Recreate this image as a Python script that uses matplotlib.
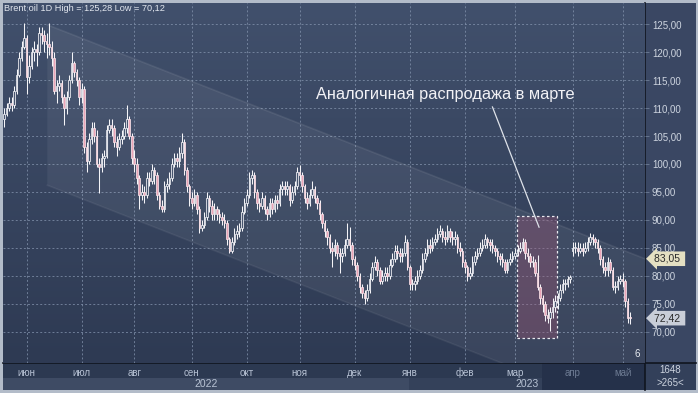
import numpy as np
import pandas as pd
import matplotlib
matplotlib.use('Agg')
import matplotlib.pyplot as plt
from matplotlib.patches import Rectangle, Polygon
import matplotlib.transforms as mtransforms
from matplotlib.colors import LinearSegmentedColormap

plt.rcParams['font.family'] = ['Liberation Sans', 'DejaVu Sans']

# ---------------- data ----------------
dates = pd.bdate_range('2022-05-19', '2023-05-04')
first_open = 108.0
gap_opens = {'2023-04-03': 84.5}

close = [
    109, 110, 111, 110.5, 113, 116, 119, 121, 122.5, 115.5,
    117.5, 120, 120.5, 120, 123.5, 123, 122, 121.5, 121, 119,
    113, 114, 114.5, 112, 110, 112, 115, 118, 116.5, 115,
    112, 113.5, 103, 100.5, 104.5, 106.5, 105, 100, 99.5, 101,
    101.5, 106, 107, 106.5, 104, 103, 104.5, 105, 106.5, 108,
    105, 101, 100, 97.5, 94.5, 95, 94.5, 97.5, 97, 99,
    98, 94.5, 92.5, 92, 96, 96.5, 97.5, 100, 101, 100.5,
    102, 104, 99, 96, 94, 93, 94.5, 92, 88.5, 89,
    90.5, 94, 92.5, 91, 92, 91, 90.5, 90, 89.5, 86.5,
    84.5, 86, 87.5, 88, 88.5, 91.5, 93, 94.5, 97.5, 98,
    95, 93, 92.5, 94, 92, 91, 93, 92, 93.5, 93,
    95.5, 96, 95.5, 96, 93.5, 95, 96, 98.5, 98, 96,
    94, 93, 94.5, 95.5, 94, 93, 91, 89.5, 88, 87,
    85, 84.5, 85.5, 84, 83.5, 84, 85.5, 86.5, 85.5, 83,
    82, 80, 78, 77, 76, 77.5, 79.5, 81.5, 82.5, 81,
    79, 80, 80.5, 80, 82, 83, 84.5, 84, 83.5, 84,
    86, 81.5, 78.5, 78.5, 79, 80, 81, 83, 84, 85.5,
    85, 86, 86.5, 87.5, 88, 87, 86.5, 88, 87, 86.5,
    87, 85, 84.5, 82.5, 81.5, 80, 80.5, 82.5, 83.5, 84,
    85, 85.5, 86.5, 86, 85.5, 85, 84.5, 83.5, 83, 82.5,
    81, 82.5, 83, 83.5, 84, 84.5, 85, 86, 84, 83.5,
    82.5, 82.5, 80.5, 78, 76, 75, 73, 72.5, 73.5, 74.5,
    75.5, 76, 77.5, 78.5, 78.5, 79.5, 79.8, 85, 85, 84.5,
    85, 84.5, 85, 86, 87, 86.5, 86, 85, 83, 81.5,
    81, 82.5, 81, 78, 78, 79, 79.5, 79, 75.5, 72.5,
    72.42]

high = [
    110, 111, 112, 112, 114, 117, 120, 122, 125.2, 123,
    119.5, 121, 122, 121.5, 124.5, 124.5, 124, 123.5, 125.28, 122,
    120, 115, 116, 115, 112.5, 113, 116, 120, 118.5, 117,
    115.5, 114.5, 114, 104, 105.5, 107.5, 107.5, 106, 101, 102,
    102.5, 107, 108, 108, 107, 105, 105.5, 106, 107.5, 110.5,
    108.5, 105.5, 102.5, 101, 98, 96.5, 96, 98.5, 98.5, 100,
    99.5, 98.5, 95, 93.5, 97, 97.5, 98.5, 101, 102, 102,
    103, 105.5, 104.5, 99.5, 96.5, 95, 95.5, 95, 92.5, 90,
    91.5, 95, 94.5, 93.5, 93, 92.5, 92, 91.5, 91, 90,
    87, 87, 88.5, 89, 89.5, 92.5, 94, 95.5, 98.5, 99,
    98.5, 95.5, 94, 95, 94.5, 92.5, 94, 94, 94.5, 94.5,
    96.5, 97, 97, 97, 96.5, 96, 97, 99.5, 99.8, 98.5,
    96.5, 95, 95.5, 97, 96, 94.5, 93.5, 91.5, 90, 88.5,
    87.5, 86, 86.5, 86, 85, 85, 86.5, 89.5, 88.7, 86,
    83.5, 82.5, 80.5, 78.5, 77.5, 78.5, 80.5, 82.5, 83.5, 83,
    81.5, 81, 81.5, 81.5, 83, 84, 85.5, 85.5, 85, 85,
    87.3, 86.5, 82, 79.5, 80, 81, 82, 84, 85, 86.5,
    86.5, 87, 87.5, 88.5, 89, 88.5, 88, 89, 88.5, 88,
    88, 87.5, 86, 85, 83, 82, 81.5, 83.5, 84.5, 85,
    86, 86.5, 87.5, 87, 86.5, 86.5, 85.5, 85, 84, 84,
    83, 83, 84, 84.5, 85, 85.5, 86, 86.8, 86.5, 85,
    84, 83.5, 83, 83.7, 78.5, 76.5, 75.5, 74, 74.5, 76,
    76.5, 77, 78.5, 79.5, 79.5, 80, 80.2, 86, 86, 86,
    85.8, 85.8, 86, 87, 87.6, 87.5, 87, 86.5, 85.5, 83.5,
    82.5, 83.3, 83, 81.5, 79, 80, 80.2, 80.5, 79.5, 76,
    73.5]

low = [
    106.6, 108.5, 109.5, 109.5, 110, 112.5, 115.5, 118.5, 120.5, 112.5,
    114.5, 117, 118.5, 117.5, 119.5, 121.5, 120, 119, 119.5, 117.5,
    112.5, 111, 113, 111, 107, 109, 111.5, 114.5, 115.5, 114,
    110.5, 111, 102, 98.5, 100, 103.5, 104, 99.5, 94.8, 98.5,
    99.5, 101, 105.5, 105, 103, 101.5, 102.5, 103.5, 104.5, 105.5,
    104.5, 100, 98.5, 96.5, 92, 93.5, 93, 94, 96, 96.5,
    96.5, 93.5, 92, 91.5, 91.5, 95, 95.5, 97, 99.5, 99.5,
    99.5, 101, 98, 95, 92.5, 92, 92.5, 91, 87.7, 88,
    88.5, 90, 91.5, 90, 90, 90, 89.5, 89, 88.5, 85.5,
    84, 84, 85.5, 86.5, 87, 88, 91, 92.5, 94, 96.5,
    94, 92, 91.5, 92, 91, 90, 90.5, 91, 91.5, 92,
    92.5, 94.5, 94.5, 94.5, 92.5, 93, 94.5, 95.5, 97, 95,
    93, 92, 92.5, 94, 93, 92, 90, 88.5, 87, 85.5,
    84, 81.5, 83.5, 83, 80.5, 82.5, 83.5, 85, 84.5, 82,
    81, 79, 77, 76, 75, 75.5, 77, 79, 81, 80,
    78.5, 78.5, 79, 79, 79.5, 81.5, 82.5, 83, 82.5, 82.5,
    83.5, 81, 77.5, 77.5, 77.5, 78.5, 79.5, 80.5, 82.5, 83.5,
    84, 84.5, 85.5, 86, 87, 86, 85.5, 86, 86, 85.5,
    85.5, 84, 83.5, 81.5, 80.5, 79, 79.5, 80, 82, 83,
    83.5, 84.5, 85, 85, 84.5, 84, 83.5, 82.5, 82, 81.5,
    80.5, 80.5, 82, 82.5, 83, 83.5, 84, 84.5, 83, 82.5,
    81.5, 81.5, 80, 77.5, 75, 73.5, 72, 71.5, 70.12, 72.5,
    73.5, 74, 75.5, 77, 77.5, 78, 78.8, 83.5, 84, 83.5,
    84, 83.5, 84, 84.5, 85.5, 85.5, 85, 84, 82, 80.5,
    80, 80, 80.5, 77.4, 77, 77.5, 78.5, 78, 74.5, 71.5,
    71.4]

month_labels = ['июн', 'июл', 'авг', 'сен', 'окт', 'ноя', 'дек',
                'янв', 'фев', 'мар', 'апр', 'май']
year_labels = ['2022', '2023']
price_ticks = [70, 75, 80, 85, 90, 95, 100, 105, 110, 115, 120, 125]

title = 'Brent oil 1D High = 125,28 Low = 70,12'
note_text = 'Аналогичная распродажа в марте'

# trend channel: (bar index, upper price, lower price) at start / end
chan_start = (17.3, 124.9, 96.2)
chan_end = (255.9, 83.05, 54.35)
last_price = 72.42
channel_price = 83.05

# highlighted March sell-off
hl_x = (204.8, 220.8)
hl_y = (68.9, 90.7)

n = min(len(dates), len(close), len(high), len(low))
dates = dates[:n]
opens = [first_open] + list(close[:n - 1])
for d, v in gap_opens.items():
    k = dates.get_loc(pd.Timestamp(d))
    opens[k] = v

# ---------------- figure ----------------
W, H = 698, 393
fig = plt.figure(figsize=(W / 100, H / 100), dpi=100, facecolor='#b3bcc9')

deco = fig.add_axes([0, 0, 1, 1], zorder=-5)
deco.set_xlim(0, W)
deco.set_ylim(H, 0)
deco.axis('off')

L, R, T, B = 3, 645, 3, 363
ax_pos = [L / W, (H - B) / H, (R - L) / W, (B - T) / H]

bg = fig.add_axes(ax_pos, zorder=-1)
grad = np.linspace(0, 1, 256)[:, None]
cmap_bg = LinearSegmentedColormap.from_list('bg', ['#41506c', '#2e3a53'])
bg.imshow(grad, aspect='auto', cmap=cmap_bg, extent=[0, 1, 0, 1])
bg.axis('off')

ax = fig.add_axes(ax_pos, zorder=1)
ax.patch.set_visible(False)

xlo, xhi = -0.4, 255.9
ylo, yhi = 64.4, 128.8
ax.set_xlim(xlo, xhi)
ax.set_ylim(ylo, yhi)

# channel
poly = Polygon([(chan_start[0], chan_start[1]), (chan_end[0], chan_end[1]),
                (chan_end[0], chan_end[2]), (chan_start[0], chan_start[2])],
               closed=True, facecolor='white', alpha=0.06, edgecolor='none', zorder=1)
ax.add_patch(poly)
ax.plot([chan_start[0], chan_end[0]], [chan_start[1], chan_end[1]], color='white',
        alpha=0.08, lw=1.2, zorder=1)
ax.plot([chan_start[0], chan_end[0]], [chan_start[2], chan_end[2]], color='white',
        alpha=0.06, lw=1.2, zorder=1)

# grid / ticks
month_idx = []
for k in range(1, n):
    if dates[k].month != dates[k - 1].month:
        month_idx.append(k)
ax.set_xticks(month_idx)
ax.set_xticklabels(month_labels[:len(month_idx)])
ax.set_yticks(price_ticks)
ax.set_yticklabels([f'{v:.2f}'.replace('.', ',') for v in price_ticks])
ax.grid(True, color='#8494ae', lw=0.7, ls=(0, (2, 2.2)), alpha=0.75, zorder=0)
ax.set_axisbelow(True)
for s in ax.spines.values():
    s.set_visible(False)
ax.yaxis.tick_right()
ax.tick_params(axis='y', length=3, width=0.6, color='#6e7d96', pad=2,
               labelsize=7, labelcolor='#cdd4df')
ax.tick_params(axis='x', length=0, pad=3.5, labelsize=7, labelcolor='#b7c2d4')
for lab in ax.get_xticklabels()[-2:]:
    lab.set_color('#6d7b93')

# highlight rectangle
rect = Rectangle((hl_x[0], hl_y[0]), hl_x[1] - hl_x[0], hl_y[1] - hl_y[0],
                 facecolor=(0.60, 0.33, 0.45, 0.38), edgecolor='#eaeaf0',
                 lw=0.9, ls=(0, (2, 2)), zorder=2)
ax.add_patch(rect)

# candles
x = np.arange(n)
o = np.array(opens[:n], float)
c = np.array(close[:n], float)
h = np.array(high[:n], float)
lw_ = np.array(low[:n], float)
up = c >= o
ax.vlines(x, lw_, h, color='#f4f4f8', lw=0.75, zorder=3)
bottoms = np.minimum(o, c)
heights = np.maximum(np.abs(c - o), 0.18)
ax.bar(x[up], heights[up], bottom=bottoms[up], width=0.62, color='#48556f',
       edgecolor='#f6f6fa', lw=0.55, zorder=4)
ax.bar(x[~up], heights[~up], bottom=bottoms[~up], width=0.62, color='#eba5b8',
       edgecolor='#fae4ea', lw=0.55, zorder=4)

# annotation
ax.text(124.6, 112.4, note_text, fontsize=11.8, color='#f2f2f6', ha='left',
        va='center', zorder=6)
ax.plot([195.0, 213.6], [110.2, 88.7], color='#dfe3ea', lw=0.9, zorder=6)

# title and small counter
ax.text(0.002, 0.985, title, transform=ax.transAxes, fontsize=6.6,
        color='#e2e7ef', ha='left', va='center', zorder=6)
ax.text(0.9875, 0.012, '6', transform=ax.transAxes, fontsize=7,
        color='#e8ecf2', ha='center', va='bottom', zorder=6)

# price tags
bt = mtransforms.blended_transform_factory(ax.transAxes, ax.transData)
for val, fc in [(channel_price, '#e4e0c2'), (last_price, '#c9ced8')]:
    ax.text(1.014, val, f'{val:.2f}'.replace('.', ',') + ' ', transform=bt,
            fontsize=7.5, color='#2a2a2a', ha='left', va='center', clip_on=False,
            zorder=7, bbox=dict(boxstyle='larrow,pad=0.22', fc=fc, ec='none'))

# year labels
jan_idx = month_idx[month_labels.index('янв')]
bx = mtransforms.blended_transform_factory(ax.transData, ax.transAxes)
ax.text((xlo + jan_idx - 0.5) / 2, -0.058, year_labels[0], transform=bx,
        fontsize=7.5, color='#b9c4d5', ha='center', va='center', clip_on=False)
ax.text((jan_idx - 0.5 + xhi) / 2, -0.058, year_labels[1], transform=bx,
        fontsize=7.5, color='#b9c4d5', ha='center', va='center', clip_on=False)

jan_px = ax.transData.transform((jan_idx - 0.5, 0))[0]

# decorative panels (pixel coords)
deco.add_patch(Rectangle((R, T), W - 2 - R, B - T, fc='#3a4763', ec='none'))
deco.add_patch(Rectangle((L, B), R - L, 15, fc='#2c3951', ec='none'))
deco.add_patch(Rectangle((542, B), R - 542, 15, fc='#25314a', ec='none'))
deco.add_patch(Rectangle((L, B + 15), jan_px - L, 12, fc='#3e4b64', ec='none'))
deco.add_patch(Rectangle((jan_px, B + 15), 542 - jan_px, 12, fc='#34415a', ec='none'))
deco.add_patch(Rectangle((542, B + 15), R - 542, 12, fc='#25314a', ec='none'))
deco.add_patch(Rectangle((R, B), W - 2 - R, 27, fc='#33405a', ec='none'))
deco.plot([R, R], [T, B + 27], color='#10151f', lw=1.2)
deco.plot([L, W - 2], [B, B], color='#10151f', lw=1.2)
deco.text((R + W - 2) / 2, B + 7, '1648', fontsize=7, color='#cdd4df',
          ha='center', va='center')
deco.text((R + W - 2) / 2, B + 20, '>265<', fontsize=7, color='#cdd4df',
          ha='center', va='center')

fig.savefig('out.png', dpi=100, facecolor=fig.get_facecolor())
